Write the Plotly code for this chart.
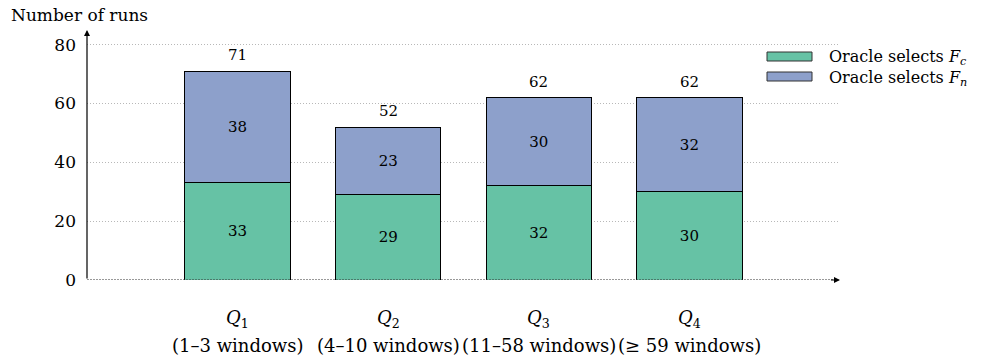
import plotly.graph_objects as go

# Run counts per quartile of window count
categories = ["Q1", "Q2", "Q3", "Q4"]
quartile_names = ["<i>Q</i><sub>1</sub>", "<i>Q</i><sub>2</sub>", "<i>Q</i><sub>3</sub>", "<i>Q</i><sub>4</sub>"]
window_ranges = ["(1–3 windows)", "(4–10 windows)", "(11–58 windows)", "(≥ 59 windows)"]
oracle_fc = [33, 29, 32, 30]
oracle_fn = [38, 23, 30, 32]
series_names = ["Oracle selects <i>F</i><sub><i>c</i></sub>", "Oracle selects <i>F</i><sub><i>n</i></sub>"]
y_ticks = [0, 20, 40, 60, 80]

totals = [c + n for c, n in zip(oracle_fc, oracle_fn)]
xpos = list(range(len(categories)))

FONT = "DejaVu Serif"
GREEN = "#66c2a5"
BLUE = "#8da0cb"
COLORS = [GREEN, BLUE]

W, H = 999, 358
ML, MR, MT, MB = 87, 159, 30, 78
PW, PH = W - ML - MR, H - MT - MB


def px_x(px):
    return (px - ML) / PW


def px_y(py):
    return (H - MB - py) / PH


fig = go.Figure()
for vals, name, col in zip([oracle_fc, oracle_fn], series_names, COLORS):
    fig.add_trace(go.Bar(
        x=xpos, y=vals, name=name,
        marker=dict(color=col, line=dict(color="black", width=1)),
        width=0.7, text=vals, textposition="inside", insidetextanchor="middle",
        textfont=dict(family=FONT, size=15, color="black"),
        showlegend=False,
    ))

fig.update_layout(
    width=W, height=H,
    margin=dict(l=ML, r=MR, t=MT, b=MB),
    barmode="stack",
    plot_bgcolor="white", paper_bgcolor="white",
    font=dict(family=FONT, size=17, color="black"),
    showlegend=False,
)

fig.update_xaxes(range=[-1, 4], showticklabels=False, showgrid=False,
                 zeroline=False, showline=False, ticks="")
fig.update_yaxes(
    range=[0, 85], tickvals=y_ticks, showgrid=True,
    gridcolor="#b8b8b8", griddash="1px,2px", gridwidth=1,
    zeroline=False, showline=False, ticks="", ticklabelstandoff=10,
    tickfont=dict(family=FONT, size=17),
)

# totals above each stack
for x, t in zip(xpos, totals):
    fig.add_annotation(x=x, y=t, text=str(t), showarrow=False, yanchor="bottom",
                       yshift=5, font=dict(family=FONT, size=15))

# category labels
for x, q, w in zip(xpos, quartile_names, window_ranges):
    fig.add_annotation(x=x, y=px_y(319), xref="x", yref="paper", text=q, showarrow=False,
                       font=dict(family=FONT, size=18), yanchor="middle")
    fig.add_annotation(x=x, y=px_y(345), xref="x", yref="paper", text=w, showarrow=False,
                       font=dict(family=FONT, size=18), yanchor="middle")

# x axis: fine dashed baseline ending in an arrow
fig.add_shape(type="line", x0=-1, x1=3.97, y0=0, y1=0, xref="x", yref="y",
              line=dict(color="#333333", width=1, dash="2px,1px"), layer="above")
fig.add_annotation(x=4, y=0, ax=3.93, ay=0, xref="x", yref="y", axref="x", ayref="y",
                   showarrow=True, arrowhead=2, arrowsize=1, arrowwidth=1.2,
                   arrowcolor="black", text="")
# y axis with arrow
fig.add_annotation(x=-1, y=85, ax=-1, ay=0, xref="x", yref="y", axref="x", ayref="y",
                   showarrow=True, arrowhead=2, arrowsize=1, arrowwidth=1.2,
                   arrowcolor="black", text="")

fig.add_annotation(text="Number of runs", x=px_x(9), y=px_y(15), xref="paper", yref="paper",
                   xanchor="left", yanchor="middle", showarrow=False,
                   font=dict(family=FONT, size=17))

# legend drawn as wide swatches with a two-line label block
step = 20
for i, col in enumerate(COLORS):
    top = 52 + i * step
    fig.add_shape(type="rect", xref="paper", yref="paper",
                  x0=px_x(767), x1=px_x(812), y0=px_y(top), y1=px_y(top + 9),
                  fillcolor=col, line=dict(color="#333333", width=1))
fig.add_annotation(text="<br>".join(series_names), x=px_x(828), y=px_y(46),
                   xref="paper", yref="paper", xanchor="left", yanchor="top",
                   align="left", showarrow=False, borderpad=0,
                   font=dict(family=FONT, size=16))

fig.write_html("out.html")
